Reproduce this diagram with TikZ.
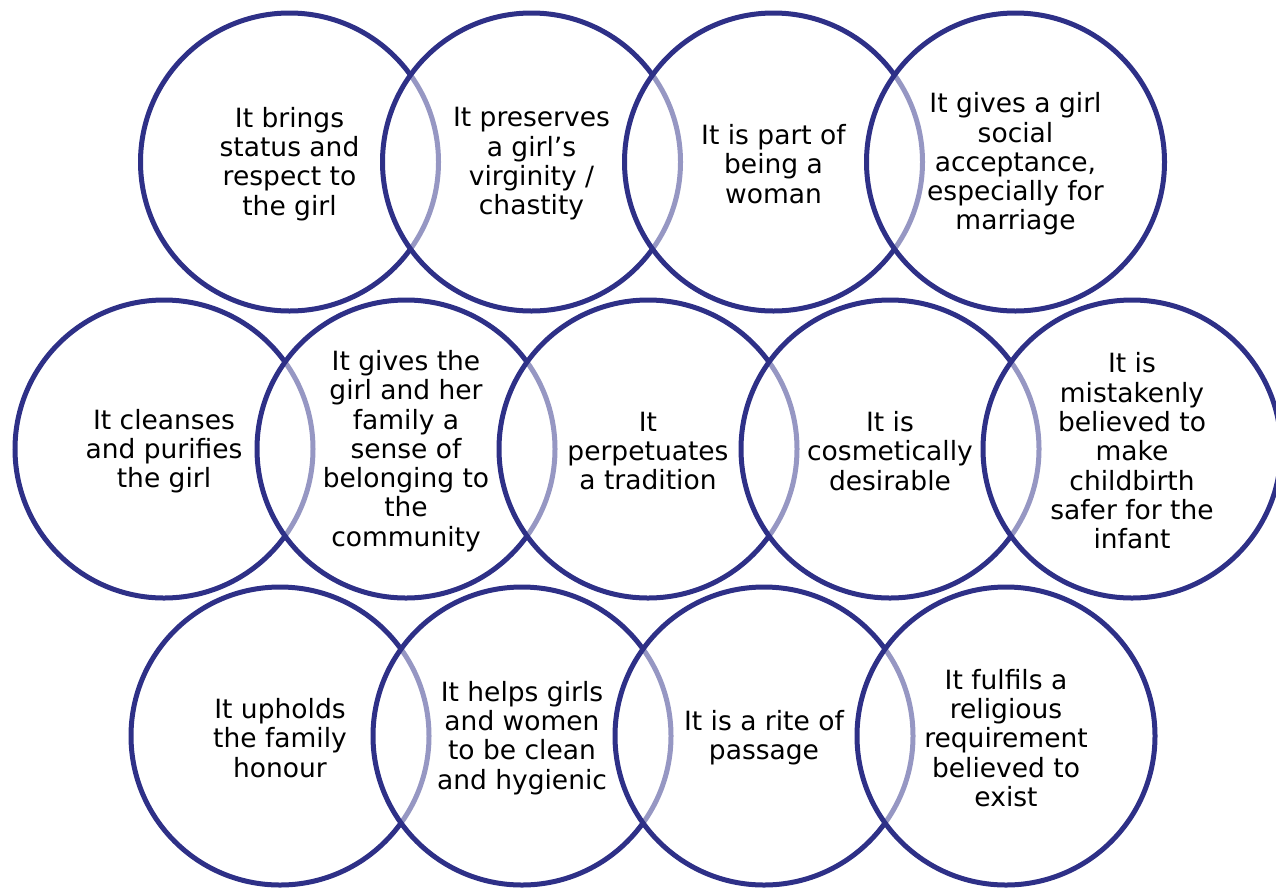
\documentclass[tikz,border=0pt]{standalone}
\usepackage{fontspec}
\setmainfont{DejaVu Sans}
\definecolor{navy}{RGB}{46,48,135}
\tikzset{
  bubble/.style={circle, draw=navy, line width=5pt, fill=white, fill opacity=0.5,
    minimum size=298pt, inner sep=0pt},
  txt/.style={align=center, inner sep=0pt, text=black,
    font=\fontsize{26.5}{29.3}\selectfont}
}
\begin{document}
\begin{tikzpicture}[x=1pt,y=-1pt]
\useasboundingbox (0,0) rectangle (1276,887);
\clip (0,0) rectangle (1276,887);
% row 1
\node[bubble] (a1) at (289.5,162) {};
\node[bubble] (a2) at (531.5,162) {};
\node[bubble] (a3) at (773.5,162) {};
\node[bubble] (a4) at (1015.5,162) {};
% row 2
\node[bubble] (b1) at (164,449) {};
\node[bubble] (b2) at (406,449) {};
\node[bubble] (b3) at (648,449) {};
\node[bubble] (b4) at (890,449) {};
\node[bubble] (b5) at (1132,449) {};
% row 3
\node[bubble] (c1) at (280,736) {};
\node[bubble] (c2) at (522,736) {};
\node[bubble] (c3) at (764,736) {};
\node[bubble] (c4) at (1006,736) {};
% texts
\node[txt] (ta1) at ([yshift=-2pt]a1.center) {It brings\\status and\\respect to\\the girl};
\node[txt] (ta2) at ([yshift=-2pt]a2.center) {It preserves\\a girl’s\\virginity /\\chastity};
\node[txt] (ta3) at ([yshift=-2pt]a3.center) {It is part of\\being a\\woman};
\node[txt] (ta4) at ([yshift=-2pt]a4.center) {It gives a girl\\social\\acceptance,\\especially for\\marriage};
\node[txt] (tb1) at ([yshift=-2pt]b1.center) {It cleanses\\and purifies\\the girl};
\node[txt] (tb2) at ([yshift=-2pt]b2.center) {It gives the\\girl and her\\family a\\sense of\\belonging to\\the\\community};
\node[txt] (tb3) at ([yshift=-2pt]b3.center) {It\\perpetuates\\a tradition};
\node[txt] (tb4) at ([yshift=-2pt]b4.center) {It is\\cosmetically\\desirable};
\node[txt] (tb5) at ([yshift=-2pt]b5.center) {It is\\mistakenly\\believed to\\make\\childbirth\\safer for the\\infant};
\node[txt] (tc1) at ([yshift=-2pt]c1.center) {It upholds\\the family\\honour};
\node[txt] (tc2) at ([yshift=-2pt]c2.center) {It helps girls\\and women\\to be clean\\and hygienic};
\node[txt] (tc3) at ([yshift=-2pt]c3.center) {It is a rite of\\passage};
\node[txt] (tc4) at ([yshift=-2pt]c4.center) {It fulfils a\\religious\\requirement\\believed to\\exist};
\end{tikzpicture}
\end{document}
